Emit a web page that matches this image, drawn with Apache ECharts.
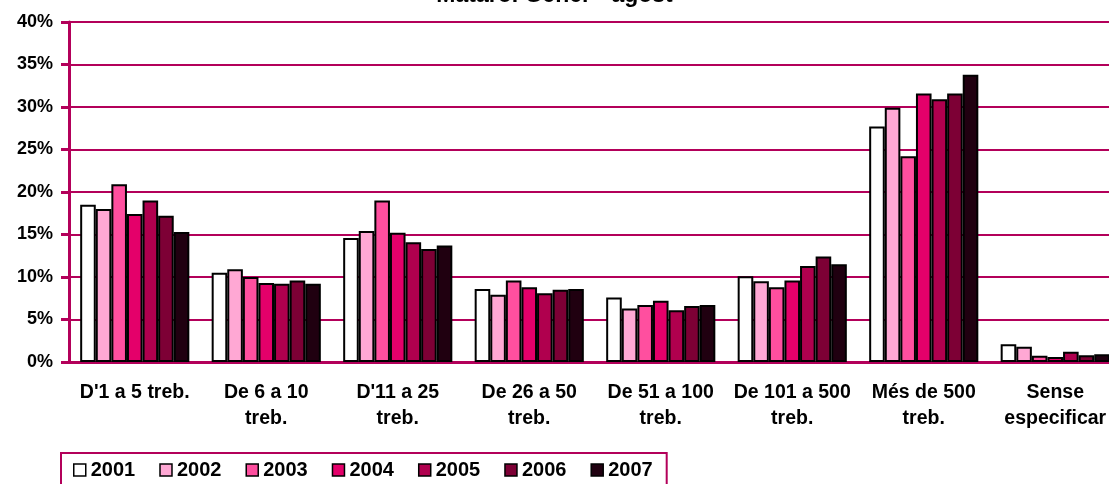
<!DOCTYPE html>
<html>
<head>
<meta charset="utf-8">
<script src="https://cdn.jsdelivr.net/npm/echarts@6/dist/echarts.min.js"></script>
<style>
  html, body { margin: 0; padding: 0; background: #fff; overflow: hidden; }
  #chart { width: 1109px; height: 484px; }
</style>
</head>
<body>
<div id="chart"></div>
<script>
// Company size bands (workers per establishment)
const categories = [
  "D'1 a 5 treb.",
  "De 6 a 10\ntreb.",
  "D'11 a 25\ntreb.",
  "De 26 a 50\ntreb.",
  "De 51 a 100\ntreb.",
  "De 101 a 500\ntreb.",
  "Més de 500\ntreb.",
  "Sense\nespecificar"
];

// Share of each band per year, in percent
const years = ["2001", "2002", "2003", "2004", "2005", "2006", "2007"];
const v2001 = [18.5, 10.5, 14.6, 8.6, 7.6, 10.1, 27.7, 2.1];
const v2002 = [18.0, 10.9, 15.4, 7.9, 6.3, 9.5, 29.9, 1.8];
const v2003 = [20.9, 10.0, 19.0, 9.6, 6.7, 8.8, 24.2, 0.75];
const v2004 = [17.4, 9.3, 15.2, 8.8, 7.2, 9.6, 31.6, 0.6];
const v2005 = [19.0, 9.2, 14.1, 8.1, 6.1, 11.3, 30.9, 1.2];
const v2006 = [17.2, 9.6, 13.3, 8.5, 6.6, 12.4, 31.6, 0.8];
const v2007 = [15.3, 9.2, 13.7, 8.6, 6.7, 11.5, 33.8, 0.9];
const values = [v2001, v2002, v2003, v2004, v2005, v2006, v2007];

const yTicks = { min: 0, max: 40, interval: 5 };

const palette = ['#FFFFFF', '#FFA8D4', '#FF4F9F', '#E4006A', '#B0004E', '#7D0035', '#200010'];
const accent = '#B3005A';
const font = 'Liberation Sans, Arial, sans-serif';

const chart = echarts.init(document.getElementById('chart'));
chart.setOption({
  animation: false,
  backgroundColor: '#fff',
  title: {
    text: 'Mataró. Gener - agost',
    left: 'center',
    top: -21,
    textStyle: { fontFamily: font, fontWeight: 'bold', fontSize: 23, color: '#000' }
  },
  legend: {
    left: 61,
    top: 453,
    icon: 'rect',
    itemWidth: 12,
    itemHeight: 12,
    itemGap: 24,
    padding: [7, 14, 8, 12],
    borderColor: accent,
    borderWidth: 2,
    borderRadius: 0,
    itemStyle: { borderColor: '#000', borderWidth: 1.5 },
    textStyle: { fontFamily: font, fontWeight: 'bold', fontSize: 20, color: '#000' },
    data: years
  },
  // the plot runs slightly past the right edge of the canvas
  grid: { left: 69, top: 22, width: 1052, bottom: 122, outerBoundsMode: 'none', containLabel: false },
  xAxis: {
    type: 'category',
    data: categories,
    axisLine: { lineStyle: { color: accent, width: 3 } },
    axisTick: { lineStyle: { color: accent, width: 2 }, length: 8 },
    axisLabel: {
      interval: 0,
      margin: 17,
      lineHeight: 26.5,
      fontFamily: font, fontWeight: 'bold', fontSize: 19.5, color: '#000'
    }
  },
  yAxis: {
    type: 'value',
    min: yTicks.min,
    max: yTicks.max,
    interval: yTicks.interval,
    axisLine: { show: true, lineStyle: { color: accent, width: 3 } },
    axisTick: { show: true, length: 8, lineStyle: { color: accent, width: 3 } },
    splitLine: { lineStyle: { color: accent, width: 2 } },
    axisLabel: {
      formatter: '{value}%',
      margin: 16,
      fontFamily: font, fontWeight: 'bold', fontSize: 18, color: '#000'
    }
  },
  series: years.map((y, i) => ({
    name: y,
    type: 'bar',
    data: values[i],
    barGap: '0%',
    barCategoryGap: '17%',
    itemStyle: { color: palette[i], borderColor: '#000', borderWidth: 2 }
  }))
});
</script>
</body>
</html>
